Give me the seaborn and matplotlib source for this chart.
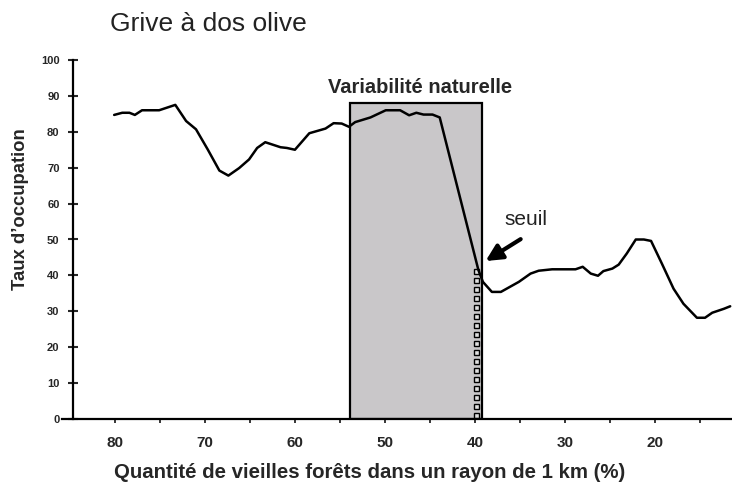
import numpy as np
import pandas as pd
import matplotlib
matplotlib.use('Agg')
import matplotlib.pyplot as plt
import seaborn as sns

# ── DONNEES ───────────────────────────────────────────────────────────────────
foret = [80.1, 79.2, 78.4, 77.8, 77.0, 75.1, 73.3, 72.1, 71.0, 69.7, 68.4, 67.4,
         66.2, 65.1, 64.2, 63.3, 61.6, 60.9, 60.0, 58.4, 56.6, 55.7, 54.8, 54.0,
         53.3, 51.6, 49.9, 48.3, 47.3, 46.5, 45.7, 44.7, 43.9, 39.6, 39.1, 38.1,
         37.1, 35.1, 33.8, 32.9, 31.4, 28.8, 28.0, 27.1, 26.3, 25.7, 24.7, 24.0,
         23.1, 22.1, 21.2, 20.4, 19.2, 17.9, 16.8, 15.3, 14.4, 13.6, 12.3, 11.6]
occupation = [84.7, 85.3, 85.3, 84.7, 86.0, 86.0, 87.5, 83.0, 80.7, 75.1, 69.2, 67.8,
              69.9, 72.3, 75.5, 77.1, 75.7, 75.5, 75.0, 79.6, 80.9, 82.4, 82.3, 81.4,
              82.7, 84.0, 86.0, 86.0, 84.6, 85.3, 84.8, 84.8, 84.0, 41.5, 38.2, 35.4,
              35.4, 38.2, 40.5, 41.3, 41.7, 41.7, 42.4, 40.5, 39.9, 41.2, 41.9, 43.0,
              46.1, 50.0, 50.0, 49.6, 43.3, 36.3, 32.1, 28.2, 28.2, 29.6, 30.7, 31.4]

variabilite = (39.2, 53.9)   # bornes de la variabilité naturelle
hauteur_boite = 88.1
seuil_x = 39.9
seuil_y = 43.7

df = pd.DataFrame({'foret': foret, 'occupation': occupation})

# ── FIGURE ────────────────────────────────────────────────────────────────────
sns.set_style('white')
plt.rcParams['font.family'] = ['Liberation Sans', 'DejaVu Sans']

fig = plt.figure(figsize=(7.32, 4.86), dpi=100)
ax = fig.add_axes([62 / 732, 1 - 419 / 486, 1 - 62 / 732, (419 - 60) / 486])

# boîte de variabilité naturelle
ax.bar((variabilite[0] + variabilite[1]) / 2, hauteur_boite,
       width=variabilite[1] - variabilite[0], color='#c9c7c9',
       edgecolor='black', linewidth=1.6, zorder=1)

# seuil (petits carrés empilés)
ys = np.arange(1.2, seuil_y, 2.5)
ax.plot(np.full(len(ys), seuil_x), ys, 's', mfc='#e0e0e0', mec='black',
        ms=3.6, mew=1.0, zorder=2)

sns.lineplot(data=df, x='foret', y='occupation', color='black',
             linewidth=1.8, ax=ax, zorder=3, sort=False)

ax.set_xlim(85.9, 11.4)
ax.set_ylim(0, 100)

ax.spines['top'].set_visible(False)
ax.spines['right'].set_visible(False)
ax.spines['left'].set_position(('data', 84.7))
for s in ['left', 'bottom']:
    ax.spines[s].set_linewidth(1.6)
    ax.spines[s].set_color('black')

ax.set_yticks(range(0, 101, 10))
ax.set_xticks(range(80, 10, -10))
ax.set_xticks(range(75, 10, -10), minor=True)
ax.tick_params(axis='y', direction='inout', length=7, width=1.5,
               labelsize=8, pad=6, left=True)
ax.tick_params(axis='x', which='both', direction='out', length=3, width=1.3,
               labelsize=11, pad=9, bottom=True)
for lab in ax.get_xticklabels() + ax.get_yticklabels():
    lab.set_fontweight('bold')

ax.set_xlabel('')
ax.set_ylabel('')
fig.text(370 / 732, 1 - 478 / 486,
         'Quantité de vieilles forêts dans un rayon de 1 km (%)',
         fontsize=14.7, fontweight='bold', ha='center', va='baseline')
fig.text(21 / 732, 1 - 209 / 486, 'Taux d\u2019occupation', rotation=90,
         fontsize=13.3, fontweight='bold', ha='center', va='center')

ax.text(46.1, 90.8, 'Variabilité naturelle',
        ha='center', va='baseline', fontsize=14.5, fontweight='bold')

ax.text(36.7, 54.0, 'seuil', fontsize=15, ha='left', va='baseline',
        color='#222222')
ax.annotate('', xy=(38.8, 44.0), xytext=(34.9, 50.1),
            arrowprops=dict(arrowstyle='-|>,head_length=0.7,head_width=0.35',
                            color='black', lw=3, mutation_scale=14,
                            shrinkA=0, shrinkB=0))

fig.text(110 / 732, 1 - 31 / 486, 'Grive à dos olive', fontsize=19,
         ha='left', va='baseline', color='#222222')

plt.savefig('out.png', dpi=100)
plt.close()
